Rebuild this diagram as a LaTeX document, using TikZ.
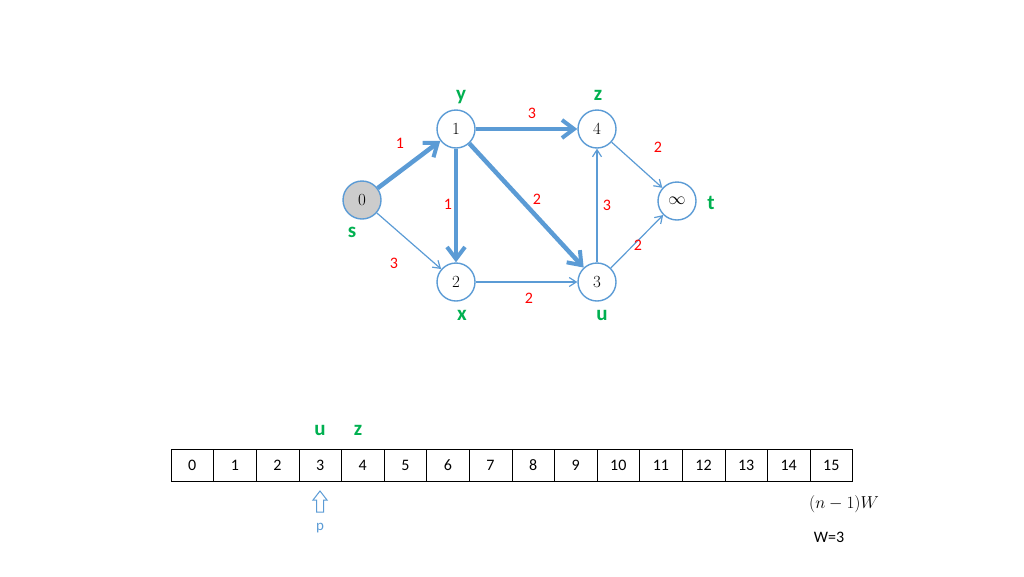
\documentclass[tikz,border=0pt]{standalone}
\usepackage{fontspec}
\setsansfont{Carlito}
\usetikzlibrary{arrows.meta}
\definecolor{eb}{HTML}{5B9BD5}
\definecolor{gr}{HTML}{00B050}
\definecolor{rd}{HTML}{FF0000}
\begin{document}
\begin{tikzpicture}[x=1pt,y=-1pt,
  vtx/.style={circle,draw=eb,line width=1.4pt,minimum size=38pt,inner sep=0pt,font=\fontsize{17}{17}\selectfont,fill=white},
  thin e/.style={draw=eb,line width=1.2pt,-{Straight Barb[length=7pt,width=9pt]}},
  thick e/.style={draw=eb,line width=4.5pt,-{Straight Barb[length=12pt,width=18pt,line width=4pt]}},
  wl/.style={text=rd,font=\sffamily\fontsize{16}{16}\selectfont},
  nl/.style={text=gr,font=\sffamily\bfseries\fontsize{21}{21}\selectfont},
  cell/.style={draw,minimum width=42.6pt,minimum height=32pt,inner sep=0pt,font=\sffamily\fontsize{16}{16}\selectfont}]
\useasboundingbox (0,0) rectangle (1024,576);
\node[vtx,fill=gray!40] (s) at (362,200) {0};
\node[vtx] (y) at (456,129) {1};
\node[vtx] (z) at (597,129) {4};
\node[vtx] (t) at (677,201) {$\infty$};
\node[vtx] (x) at (456,282) {2};
\node[vtx] (u) at (597,282) {3};
\draw[thick e] (s) -- (y);
\draw[thick e] (y) -- (z);
\draw[thick e] (y) -- (x);
\draw[thick e] (y) -- (u);
\draw[thin e] (s) -- (x);
\draw[thin e] (x) -- (u);
\draw[thin e] (u) -- (z);
\draw[thin e] (z) -- (t);
\draw[thin e] (u) -- (t);
\node[wl] (w1) at (400,143) {1};
\node[wl] (w2) at (532,113) {3};
\node[wl] (w3) at (448,204) {1};
\node[wl] (w4) at (537,199) {2};
\node[wl] (w5) at (394,263) {3};
\node[wl] (w6) at (529,298) {2};
\node[wl] (w7) at (607,205) {3};
\node[wl] (w8) at (658,147) {2};
\node[wl] (w9) at (638,245) {2};
\node[nl] (ly) at (461,97) {y};
\node[nl] (lz) at (598,95) {z};
\node[nl] (lt) at (711,203) {t};
\node[nl] (ls) at (352,232) {s};
\node[nl] (lx) at (462,315) {x};
\node[nl] (lu) at (602,315) {u};
\foreach \i in {0,...,15}{
  \node[cell] (c\i) at ({171+21.3+42.6*\i},465) {\i};
}
\node[nl] (au) at (320,430) {u};
\node[nl] (az) at (358,430) {z};
\draw[eb,line width=1pt,fill=white] (316.5,512) -- (316.5,500) -- (313,500) -- (320,491) -- (327,500) -- (323.5,500) -- (323.5,512) -- cycle;
\node[text=eb,font=\sffamily\fontsize{15}{15}\selectfont] (p) at (320,528) {p};
\node[font=\fontsize{17}{17}\selectfont] (nw) at (844,504) {$(n-1)W$};
\node[font=\sffamily\fontsize{16}{16}\selectfont] (W) at (829,537) {W=3};
\end{tikzpicture}
\end{document}
